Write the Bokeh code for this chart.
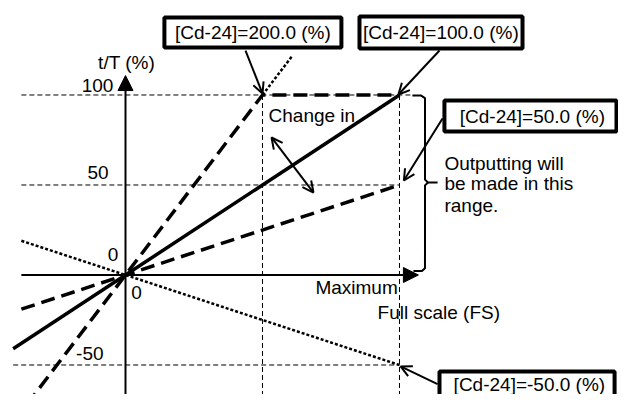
from bokeh.plotting import figure
from bokeh.models import Arrow, OpenHead, NormalHead, Range1d
from bokeh.core.properties import value
from bokeh.embed import file_html
from bokeh.resources import INLINE

# ---- data (output t/T % vs input, full scale = 100) ----
full_scale = 100
max_out = 100
grid_levels = [100, 50, -50]
grid_x_start = [-38, -38, -41]
grid_x_end = [104.7, 100, 100]
vlines = [50, 100]

y_tick_vals = [100, 50, 0, -50]
y_tick_labels = ["100", "50", "0", "-50"]

# gain lines ([Cd-24] settings)
gain200_x = [-36, 50, 100]
gain200_y = [-72, 100, 100]
gain200_over_x = [50, 61]
gain200_over_y = [100, 122]
gain100_x = [-41, 100]
gain100_y = [-41, 100]
gain50_x = [-38, 100]
gain50_y = [-19, 50]
gainm50_x = [-38, 100]
gainm50_y = [19, -50]

box_labels = ["[Cd-24]=200.0 (%)", "[Cd-24]=100.0 (%)",
              "[Cd-24]=50.0 (%)", "[Cd-24]=-50.0 (%)"]

FONT = value("Liberation Sans")
FS = value("19px")

p = figure(width=618, height=394,
           x_range=Range1d(-45.62, 179.93), y_range=Range1d(-66.39, 152.5),
           x_axis_type=None, y_axis_type=None,
           min_border=0, toolbar_location=None, output_backend="svg")
p.grid.visible = False
p.outline_line_color = None
p.background_fill_color = "white"
p.border_fill_color = "white"

# thin dashed guide lines
for lvl, xs, xe in zip(grid_levels, grid_x_start, grid_x_end):
    p.line([xs, xe], [lvl, lvl], line_color="black", line_width=1, line_dash="5 3")
for vx in vlines:
    p.line([vx, vx], [max_out, -80], line_color="black", line_width=1, line_dash="5 3")

# gain lines
p.line(gain200_x, gain200_y, line_color="black", line_width=3.5, line_dash="14 7")
p.line(gain200_over_x, gain200_over_y, line_color="black", line_width=2.5, line_dash="3 2")
p.line(gain100_x, gain100_y, line_color="black", line_width=3.5)
p.line(gain50_x, gain50_y, line_color="black", line_width=3.5, line_dash="14 7")
p.line(gainm50_x, gainm50_y, line_color="black", line_width=2.5, line_dash="3 2")

# axes with arrow heads
p.add_layout(Arrow(end=NormalHead(size=15, fill_color="black", line_color="black"),
                   x_start=-38, y_start=0, x_end=106.9, y_end=0,
                   line_width=2, line_color="black"))
p.add_layout(Arrow(end=NormalHead(size=15, fill_color="black", line_color="black"),
                   x_start=0, y_start=-75, x_end=0, y_end=110.8,
                   line_width=2, line_color="black"))

# bracket "}"
p.line([104.7, 107.9, 109.3, 109.3, 110.4, 113.9],
       [99.7, 99.7, 98.3, 53.0, 51.4, 51.4], line_color="black", line_width=2)
p.line([110.4, 109.3, 109.3, 108.2, 105.1],
       [51.4, 49.8, 3.8, 2.2, 2.2], line_color="black", line_width=2)

# label boxes
p.quad(left=[14.2, 85.4, 116.4, 114.6], right=[78.8, 144.9, 179.2, 178.5],
       top=[143.1, 143.6, 96.9, -53.6], bottom=[126.4, 125.8, 79.7, -80],
       fill_color="white", line_color="black", line_width=4)
p.text(x=[46.5, 115.1, 148.5, 147.4], y=[134.7, 134.7, 88.3, -61.1], text=box_labels,
       text_font=FONT, text_font_size=FS, text_align="center",
       text_baseline="middle", text_color="black")

# callout arrows
def callout(xs, ys, xe, ye, double=False):
    kw = dict(end=OpenHead(size=11, line_width=2, line_color="black"),
              x_start=xs, y_start=ys, x_end=xe, y_end=ye,
              line_width=2, line_color="black")
    if double:
        kw["start"] = OpenHead(size=11, line_width=2, line_color="black")
    p.add_layout(Arrow(**kw))

callout(43.8, 124.7, 50, 100.8)
callout(114.6, 124.7, 99.6, 100.3)
callout(115.7, 86.9, 101.6, 52.5)
callout(113.9, -60.6, 100.4, -50.8)
callout(53.3, 76.4, 68.6, 45.8, double=True)

# tick labels
p.text(x=[-4.4, -6.2, -2.6, -8.0], y=[105.3, 56.9, 11.4, -43.6], text=y_tick_labels,
       text_font=FONT, text_font_size=FS, text_align="right",
       text_baseline="middle", text_color="black")
p.text(x=[2.1], y=[-9.6], text=["0"], text_font=FONT, text_font_size=FS,
       text_align="left", text_baseline="middle", text_color="black")
p.text(x=[0.4], y=[118.1], text=["t/T (%)"], text_font=FONT, text_font_size=FS,
       text_align="center", text_baseline="middle", text_color="black")

# other texts
p.text(x=[69.3, 92.0, 52.2, 116.4, 116.4, 116.4],
       y=[-6.9, -20.8, 88.6, 61.9, 50.8, 38.6],
       text=["Maximum", "Full scale (FS)", "Change in",
             "Outputting will", "be made in this", "range."],
       text_font=FONT, text_font_size=FS, text_align="left",
       text_baseline="middle", text_color="black")

open("out.html", "w").write(file_html(p, INLINE))
